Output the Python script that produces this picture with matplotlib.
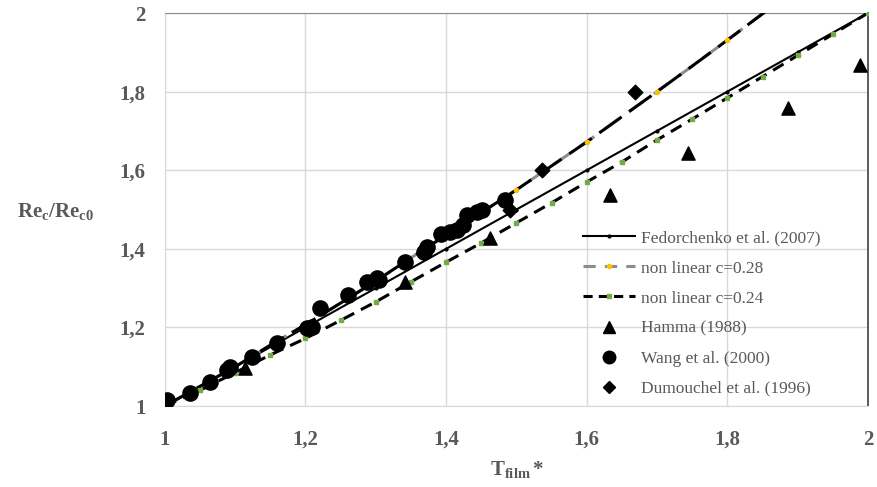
import matplotlib
matplotlib.use("Agg")
import matplotlib.pyplot as plt
from matplotlib.lines import Line2D

# ----------------------------
# Data
# ----------------------------
t_fed = [1.0, 1.1, 1.2, 1.3, 1.4, 1.5, 1.6, 1.7, 1.8, 1.9, 2.0]
re_fed = [1.0, 1.1, 1.2, 1.3, 1.4, 1.5, 1.6, 1.7, 1.8, 1.9, 2.0]

t_nl = [1.00, 1.05, 1.10, 1.15, 1.20, 1.25, 1.30, 1.35, 1.40, 1.45,
        1.50, 1.55, 1.60, 1.65, 1.70, 1.75, 1.80, 1.85, 1.90, 1.95, 2.00]
re_c028 = [1.000, 1.050, 1.100, 1.155, 1.207, 1.262, 1.318, 1.377, 1.435, 1.492,
           1.550, 1.611, 1.672, 1.736, 1.800, 1.865, 1.931, 1.998, 2.065, 2.130, 2.200]
re_c024 = [1.000, 1.040, 1.085, 1.130, 1.172, 1.218, 1.265, 1.316, 1.366, 1.415,
           1.466, 1.517, 1.570, 1.621, 1.677, 1.730, 1.784, 1.838, 1.892, 1.946, 2.000]

t_hamma = [1.0, 1.114, 1.342, 1.462, 1.633, 1.744, 1.886, 1.989]
re_hamma = [1.0, 1.097, 1.316, 1.427, 1.537, 1.645, 1.758, 1.868]

t_wang = [1.003, 1.036, 1.064, 1.088, 1.092, 1.124, 1.159, 1.202, 1.209, 1.220,
          1.260, 1.287, 1.301, 1.304, 1.341, 1.368, 1.373, 1.393, 1.405, 1.415,
          1.424, 1.430, 1.444, 1.451, 1.484]
re_wang = [1.015, 1.033, 1.061, 1.092, 1.100, 1.125, 1.160, 1.198, 1.201, 1.249,
           1.282, 1.316, 1.325, 1.320, 1.366, 1.392, 1.405, 1.437, 1.443, 1.447,
           1.460, 1.486, 1.494, 1.499, 1.524]

t_dum = [1.491, 1.536, 1.669]
re_dum = [1.499, 1.600, 1.800]

ticks = [1.0, 1.2, 1.4, 1.6, 1.8, 2.0]
tick_labels = ["1", "1,2", "1,4", "1,6", "1,8", "2"]

# ----------------------------
# Style
# ----------------------------
SERIF = "Liberation Serif"
GREY_TXT = "#595959"
plt.rcParams["font.family"] = [SERIF, "DejaVu Serif"]
plt.rcParams["mathtext.fontset"] = "custom"
plt.rcParams["mathtext.rm"] = SERIF
plt.rcParams["mathtext.bf"] = SERIF + ":bold"
plt.rcParams["mathtext.it"] = SERIF + ":italic"

fig = plt.figure(figsize=(8.77, 4.87), dpi=100)
ax = fig.add_axes([0.188, 0.1663, 0.8017, 0.807])

# grid + frame
ax.grid(True, color="#d9d9d9", linewidth=1.0)
ax.set_axisbelow(True)
for side in ["left", "bottom"]:
    ax.spines[side].set_color("#d9d9d9")
ax.spines["top"].set_color("#8c8c8c")
ax.spines["right"].set_color("#404040")
ax.spines["right"].set_linewidth(1.2)

# ----------------------------
# Lines
# ----------------------------
ax.plot(t_fed, re_fed, color="black", linewidth=1.5, marker="o",
        markersize=2, zorder=3)

ax.plot(t_nl, re_c028, color="#8c8c8c", linewidth=2.2, dashes=(6, 4),
        zorder=3)
ax.plot(t_nl, re_c028, color="black", linewidth=2.2, dashes=(9, 3),
        marker="o", markersize=3, markerfacecolor="#ffc000",
        markeredgecolor="#ffc000", markevery=2, zorder=3)

ax.plot(t_nl, re_c024, color="black", linewidth=2.2, dashes=(4, 2.5),
        marker="s", markersize=2.5, markerfacecolor="#70ad47",
        markeredgecolor="#70ad47", zorder=3)

# ----------------------------
# Experimental points
# ----------------------------
ax.scatter(t_hamma, re_hamma, marker="^", s=90, color="black", zorder=4)
ax.scatter(t_wang, re_wang, marker="o", s=120, color="black", zorder=4)
ax.scatter(t_dum, re_dum, marker="D", s=55, color="black", zorder=4)

# ----------------------------
# Axes
# ----------------------------
ax.set_xlim(1, 2)
ax.set_ylim(1, 2)
ax.set_xticks(ticks)
ax.set_yticks(ticks)
ax.set_xticklabels(tick_labels)
ax.set_yticklabels(tick_labels)
ax.tick_params(axis="both", length=0, labelsize=15, labelcolor=GREY_TXT)
ax.tick_params(axis="y", pad=14)
ax.tick_params(axis="x", pad=17)
for lab in ax.get_xticklabels() + ax.get_yticklabels():
    lab.set_fontweight("bold")

fig.text(0.063, 0.565, r"$\mathbf{Re_c/Re_{c0}}$", fontsize=15,
         color=GREY_TXT, ha="center", va="center")
fig.text(0.59, 0.035, r"$\mathbf{T_{film}*}$", fontsize=15,
         color=GREY_TXT, ha="center", va="center")

# ----------------------------
# Legend
# ----------------------------
handles = [
    Line2D([], [], color="black", linewidth=1.5, marker="o", markersize=2),
    Line2D([], [], color="#8c8c8c", linewidth=2.2, dashes=(4, 3),
           marker="o", markersize=3, markerfacecolor="#ffc000",
           markeredgecolor="#ffc000"),
    Line2D([], [], color="black", linewidth=2.2, dashes=(3, 2),
           marker="s", markersize=2.5, markerfacecolor="#70ad47",
           markeredgecolor="#70ad47"),
    Line2D([], [], linestyle="none", marker="^", markersize=8, color="black"),
    Line2D([], [], linestyle="none", marker="o", markersize=9, color="black"),
    Line2D([], [], linestyle="none", marker="D", markersize=6, color="black"),
]
labels = ["Fedorchenko et al. (2007)", "non linear c=0.28", "non linear c=0.24",
          "Hamma (1988)", "Wang et al. (2000)", "Dumouchel et al. (1996)"]
leg = ax.legend(handles, labels, loc="upper left",
                bbox_to_anchor=(0.595, 0.447), frameon=False,
                borderpad=0, borderaxespad=0, handlelength=3.0,
                handletextpad=0.35, labelspacing=0.8, fontsize=12.5,
                numpoints=1)
for txt in leg.get_texts():
    txt.set_color(GREY_TXT)

fig.savefig("out.png", dpi=100)
